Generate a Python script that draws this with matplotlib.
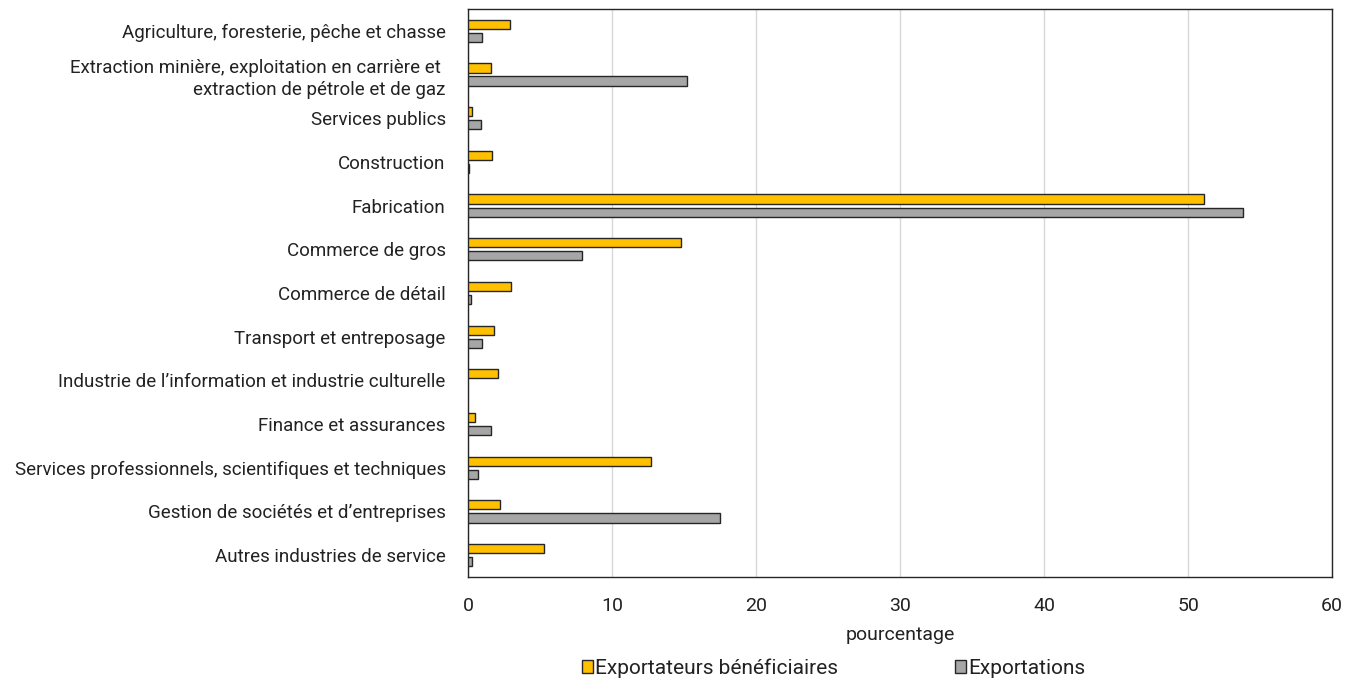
import numpy as np
import matplotlib
matplotlib.use("Agg")
import matplotlib.pyplot as plt
from matplotlib.patches import Patch

categories = [
    "Agriculture, foresterie, pêche et chasse",
    "Extraction minière, exploitation en carrière et \nextraction de pétrole et de gaz",
    "Services publics",
    "Construction",
    "Fabrication",
    "Commerce de gros",
    "Commerce de détail",
    "Transport et entreposage",
    "Industrie de l’information et industrie culturelle",
    "Finance et assurances",
    "Services professionnels, scientifiques et techniques",
    "Gestion de sociétés et d’entreprises",
    "Autres industries de service",
]
exportateurs = [2.9, 1.6, 0.3, 1.7, 51.1, 14.8, 3.0, 1.8, 2.1, 0.5, 12.7, 2.2, 5.3]
exportations = [1.0, 15.2, 0.9, 0.1, 53.8, 7.9, 0.2, 1.0, np.nan, 1.6, 0.7, 17.5, 0.3]
xticks = [0, 10, 20, 30, 40, 50, 60]

plt.rcParams['font.family'] = ['Roboto', 'DejaVu Sans']
text_color = "#222222"

fig = plt.figure(figsize=(13.54, 6.86), dpi=100)
ax = fig.add_axes([0.3456, 0.1589, 0.6382, 0.828])

y = np.arange(len(categories))
h = 0.21
ax.barh(y - 0.15, exportateurs, height=h, color="#FFC000", edgecolor="#262626", linewidth=1.0, zorder=3)
ax.barh(y + 0.15, exportations, height=h, color="#A6A6A6", edgecolor="#262626", linewidth=1.0, zorder=3)

ax.set_ylim(len(categories) - 0.5, -0.5)
ax.set_xlim(0, 60)
ax.set_xticks(xticks)
ax.set_xticklabels([str(t) for t in xticks], fontsize=14, color=text_color)
ax.set_yticks(y)
ax.set_yticklabels(categories, fontsize=13.5, color=text_color, linespacing=1.35)
ax.tick_params(axis='y', length=0, pad=16)
ax.tick_params(axis='x', length=0, pad=14.5)
ax.grid(axis='x', color="#d9d9d9", linewidth=1, zorder=0)
for s in ax.spines.values():
    s.set_color("#262626")
    s.set_linewidth(1.0)
ax.set_xlabel("pourcentage", fontsize=14, color=text_color, labelpad=7.5)

handles = [Patch(facecolor="#FFC000", edgecolor="#262626", label="Exportateurs bénéficiaires"),
           Patch(facecolor="#A6A6A6", edgecolor="#262626", label="Exportations")]
fig.legend(handles=handles, loc='center', bbox_to_anchor=(0.6156, 0.026), ncol=2,
           frameon=False, fontsize=15, handlelength=0.55, handleheight=0.55,
           handletextpad=0.1, columnspacing=5.6, labelcolor=text_color)

fig.savefig("out.png", dpi=100)
